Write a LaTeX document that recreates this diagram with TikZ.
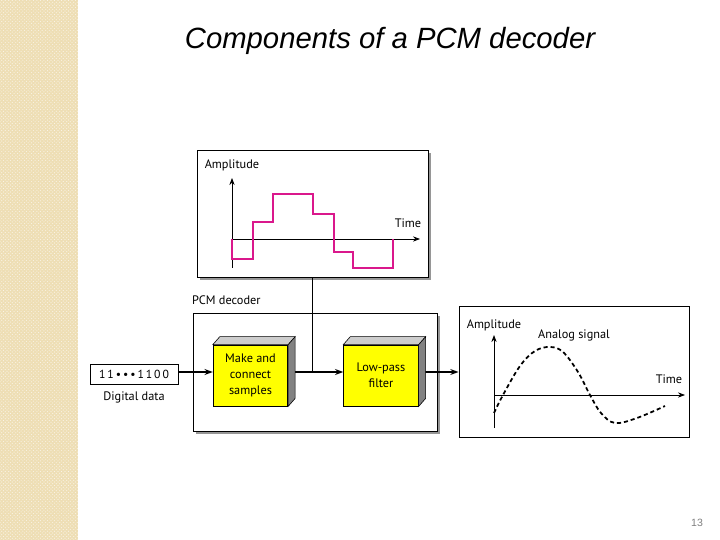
\documentclass[tikz,border=0pt]{standalone}
\usepackage{fontspec}
\setmainfont{Liberation Sans}
\newfontfamily\labelfont{PT Sans}
\usetikzlibrary{arrows.meta, positioning, calc, patterns}
\definecolor{pcmpink}{RGB}{218,24,140}
\definecolor{pcmyellow}{RGB}{255,255,0}
\definecolor{pcmbeige}{RGB}{238,222,180}
\definecolor{pcmshade}{RGB}{150,150,150}
\definecolor{pcmtop}{RGB}{205,205,205}
\definecolor{pcmside}{RGB}{130,130,130}

\tikzset{
  panel/.style={draw=black, fill=white, line width=0.7pt, inner sep=0pt},
  lbl/.style={font=\labelfont\fontsize{10.5}{12}\selectfont, inner sep=0pt},
  axis/.style={line width=0.7pt, -{Stealth[length=6pt,width=4.5pt]}},
  flow/.style={line width=1.1pt, -{Stealth[length=7pt,width=5pt]}},
  stage/.style={draw=black, fill=pcmyellow, line width=0.6pt, inner sep=0pt,
    minimum width=2.24cm, minimum height=1.83cm, align=center,
    font=\labelfont\fontsize{10.5}{13.8}\selectfont}
}

\begin{document}
\begin{tikzpicture}[x=0.03cm, y=-0.03cm]
  \useasboundingbox (0,0) rectangle (720,540);
  % Left strip
  \fill[pcmbeige] (0,0) rectangle (78,540);
  \fill[pattern=crosshatch dots, pattern color=white!65!pcmbeige] (0,0) rectangle (78,540);

  % Title and page number
  \node[font=\fontsize{25}{30}\selectfont\itshape] (title) at (390,41) {Components of a PCM decoder};
  \node[font=\fontsize{9}{11}\selectfont, gray] (page) at (697,523) {13};

  % --- Input signal panel ---
  \fill[pcmshade] (200,153) rectangle (431,280);
  \node[panel, minimum width=6.93cm, minimum height=3.81cm] (graph) at (312.5,213.5) {};
  \draw[axis] (232,268) -- (232,178);
  \draw[axis] (232,239) -- (420,239);
  \node[lbl] (amp) at (232,165) {Amplitude};
  \node[lbl] (time) at (408,223) {Time};
  % Stair-step samples
  \draw[pcmpink, line width=1.7pt] (232,239) -- (232,259) -- (253,259) -- (253,222)
    -- (273,222) -- (273,194) -- (313,194) -- (313,214) -- (334,214) -- (334,252)
    -- (353,252) -- (353,268) -- (393,268) -- (393,239);

  % --- Decoder panel ---
  \fill[pcmshade] (196,316) rectangle (440,434);
  \node[panel, minimum width=7.32cm, minimum height=3.54cm] (decoder) at (315,372) {};
  \node[lbl, anchor=west] (declbl) at (192,300) {PCM decoder};
  \coordinate (bus) at (0,372);

  % Input data
  \node[draw=black, line width=0.6pt, fill=white, minimum width=2.64cm, minimum height=0.6cm,
    inner sep=0pt, font=\labelfont\fontsize{10}{12}\selectfont] (digital) at (134,374) {1\,1\,•\,•\,•\,1\,1\,0\,0};
  \node[lbl] (digilbl) at (134,397) {Digital data};

  % Stages
  \node[stage] (make) at (250.5,375.5) {Make and\\connect\\samples};
  \node[stage] (filter) at (381,375.5) {Low-pass\\filter};

  % --- Output signal panel ---
  \node[panel, minimum width=6.9cm, minimum height=3.93cm] (analog) at (574,371.5) {};
  \draw[axis] (494,428) -- (494,335);
  \draw[axis] (494,395) -- (685,395);
  \node[lbl] (amp2) at (494,325) {Amplitude};
  \node[lbl] (siglbl) at (574,335) {Analog signal};
  \node[lbl] (time2) at (669,379) {Time};
  \draw[line width=1.5pt, dash pattern=on 3.5pt off 2.5pt] plot[smooth, tension=0.6] coordinates
    {(494,413) (503,395) (520,366) (535,351) (550,347) (563,352) (578,372) (590,395)
     (601,413) (615,423) (637,418) (665,406)};

  % Connectors
  \draw[line width=0.8pt] (graph.south) -- (graph.south |- bus);
  \draw[flow] (digital.east |- bus) -- (make.west |- bus);
  \draw[flow] (make.east |- bus) -- (filter.west |- bus);
  \draw[flow] (filter.east |- bus) -- (analog.west |- bus);

  % 3D faces of the stages
  \foreach \b in {make, filter} {
    \filldraw[fill=pcmtop, draw=black, line width=0.5pt] (\b.north west) -- ++(7,-8)
      -- ($(\b.north east)+(7,-8)$) -- (\b.north east) -- cycle;
    \filldraw[fill=pcmside, draw=black, line width=0.5pt] (\b.north east) -- ++(7,-8)
      -- ($(\b.south east)+(7,-8)$) -- (\b.south east) -- cycle;
  }
\end{tikzpicture}
\end{document}
